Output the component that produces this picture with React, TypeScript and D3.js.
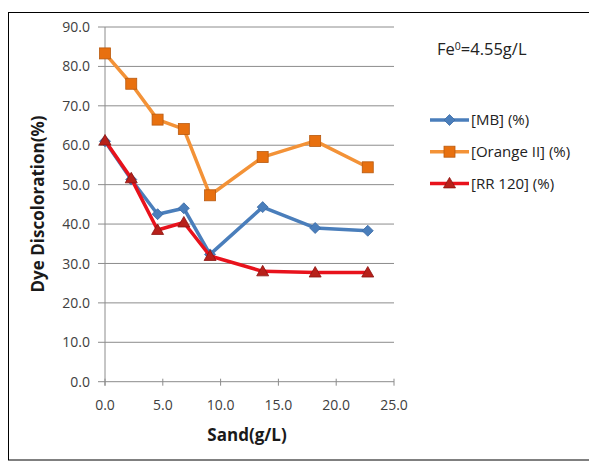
import React from "react";
import * as d3 from "d3";

// Sand dose (g/L) for each run
const sand = [0, 2.27, 4.55, 6.82, 9.09, 13.64, 18.18, 22.73];
// Dye discoloration (%) per dye
const mb = [61.0, 51.3, 42.5, 44.0, 32.3, 44.3, 39.0, 38.3];
const orange = [83.3, 75.6, 66.5, 64.1, 47.3, 57.0, 61.1, 54.4];
const rr = [61.2, 51.6, 38.5, 40.4, 31.9, 28.0, 27.7, 27.7];

const yTicks = [0, 10, 20, 30, 40, 50, 60, 70, 80, 90];
const xTicks = [0, 5, 10, 15, 20, 25];

const seriesNames = ["[MB] (%)", "[Orange II] (%)", "[RR 120] (%)"];

const W = 589;
const H = 461;
const FONT = "'Open Sans', 'Liberation Sans', sans-serif";

export default function App() {
  const x = d3.scaleLinear().domain([0, 25]).range([105, 394]);
  const y = d3.scaleLinear().domain([0, 90]).range([381.7, 27]);
  const line = d3
    .line<number>()
    .x((_, i) => x(sand[i]))
    .y((d) => y(d));

  const series = [
    { name: seriesNames[0], values: mb, stroke: "#4a7ebb", fill: "#4a7ebb", edge: "#3a6aa5", shape: "diamond" },
    { name: seriesNames[1], values: orange, stroke: "#f39237", fill: "#e8700f", edge: "#b85a10", shape: "square" },
    { name: seriesNames[2], values: rr, stroke: "#e8121c", fill: "#b8201a", edge: "#8a1410", shape: "triangle" },
  ];

  const marker = (shape: string, cx: number, cy: number, fill: string, edge: string, key: string) => {
    if (shape === "square") {
      return <rect key={key} x={cx - 5.5} y={cy - 5.5} width={11} height={11} fill={fill} stroke={edge} strokeWidth={0.8} />;
    }
    if (shape === "diamond") {
      const s = 5.5;
      return (
        <path key={key} d={`M${cx},${cy - s}L${cx + s},${cy}L${cx},${cy + s}L${cx - s},${cy}Z`} fill={fill} stroke={edge} strokeWidth={0.8} />
      );
    }
    const s = 6;
    return (
      <path key={key} d={`M${cx},${cy - s}L${cx + s},${cy + s * 0.75}L${cx - s},${cy + s * 0.75}Z`} fill={fill} stroke={edge} strokeWidth={0.8} />
    );
  };

  return (
    <svg width={W} height={H} style={{ position: "absolute", left: 0, top: 0, background: "#fff" }} fontFamily={FONT}>
      <rect x={8.5} y={12.5} width={590} height={447.5} fill="#fff" stroke="#000" strokeWidth={1} />

      {/* gridlines */}
      {yTicks.map((t) => (
        <line key={"g" + t} x1={x(0) - 7} x2={x(25)} y1={y(t)} y2={y(t)} stroke="#8c8c8c" strokeWidth={1} />
      ))}
      {/* axes */}
      <line x1={x(0)} x2={x(0)} y1={y(0) + 4} y2={y(90)} stroke="#8c8c8c" strokeWidth={1} />
      {xTicks.map((t) => (
        <line key={"xt" + t} x1={x(t)} x2={x(t)} y1={y(0) - 3} y2={y(0) + 4} stroke="#8c8c8c" strokeWidth={1} />
      ))}

      {/* tick labels */}
      {yTicks.map((t) => (
        <text key={"yl" + t} x={90} y={y(t)} dy="0.36em" textAnchor="end" fontSize={14} fill="#404040">
          {t.toFixed(1)}
        </text>
      ))}
      {xTicks.map((t) => (
        <text key={"xl" + t} x={x(t)} y={405} dy="0.36em" textAnchor="middle" fontSize={14} fill="#404040">
          {t.toFixed(1)}
        </text>
      ))}

      {/* axis titles */}
      <text x={247} y={441} textAnchor="middle" fontSize={17} fontWeight="bold" fill="#1a1a1a">
        Sand(g/L)
      </text>
      <text transform="translate(44,204) rotate(-90)" textAnchor="middle" fontSize={17} fontWeight="bold" fill="#1a1a1a">
        Dye Discoloration(%)
      </text>

      {/* series */}
      {series.map((s) => (
        <g key={s.name}>
          <path d={line(s.values) || ""} fill="none" stroke={s.stroke} strokeWidth={3.5} strokeLinejoin="round" />
          {s.values.map((v, i) => marker(s.shape, x(sand[i]), y(v), s.fill, s.edge, s.name + i))}
        </g>
      ))}

      {/* annotation */}
      <text x={437} y={55} fontSize={16.5} fill="#222">
        Fe<tspan dy={-5} fontSize={10.5}>0</tspan>
        <tspan dy={5}>=4.55g/L</tspan>
      </text>

      {/* legend */}
      {series.map((s, i) => {
        const ly = 120 + i * 31.7;
        return (
          <g key={"lg" + i}>
            <line x1={430} x2={469} y1={ly} y2={ly} stroke={s.stroke} strokeWidth={3.5} />
            {marker(s.shape, 449.5, ly, s.fill, s.edge, "lm" + i)}
            <text x={471} y={ly} dy="0.36em" fontSize={15} fill="#222">
              {s.name}
            </text>
          </g>
        );
      })}
    </svg>
  );
}
